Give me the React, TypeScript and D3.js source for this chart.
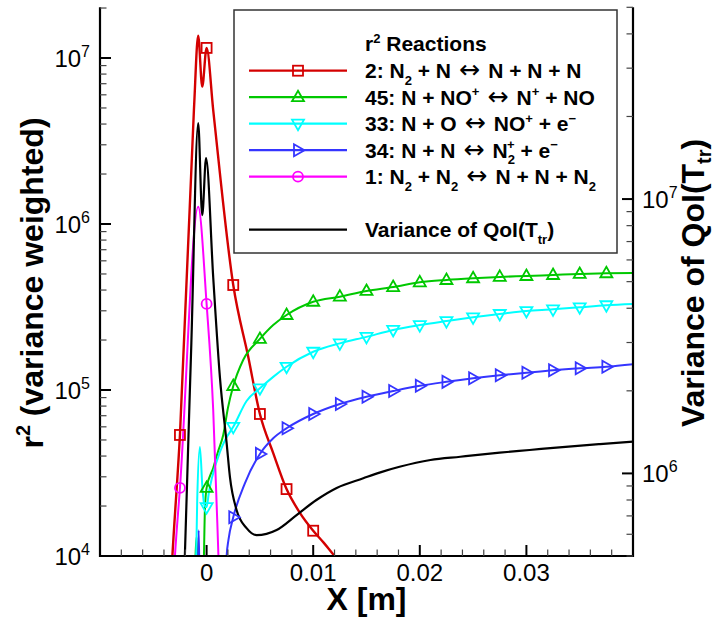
import React from 'react';
import * as d3 from 'd3';

const W = 719;
const H = 621;

// ---- axes ----
const X_DOMAIN: [number, number] = [-0.01, 0.04];
const YL_DOMAIN: [number, number] = [1e4, 2.02e7];
const YR_DOMAIN: [number, number] = [5e5, 5e7];
const X_MAJOR = [0, 0.01, 0.02, 0.03];
const X_LABELS = ['0', '0.01', '0.02', '0.03'];
const YL_MAJOR_EXP = [4, 5, 6, 7];
const YR_MAJOR_EXP = [6, 7];
const MARKER_X = [-0.0025, 0, 0.0025, 0.005, 0.0075, 0.01, 0.0125, 0.015, 0.0175, 0.02, 0.0225, 0.025, 0.0275, 0.03, 0.0325, 0.035, 0.0375];

// ---- series (x [m], r^2 or variance) ----
const R2_DATA: [number, number][] = [
  [-0.00344, 5.4e3], [-0.00321, 1e4], [-0.0025, 5.36e4], [-0.00119, 4.86e6], [-0.00079, 1.36e7],
  [-0.00041, 6.72e6], [0, 1.15e7], [0.00062, 4.86e6], [0.0025, 4.29e5], [0.0039, 1.59e5],
  [0.005, 7.17e4], [0.00625, 4.17e4], [0.0075, 2.53e4], [0.00875, 1.82e4], [0.01, 1.42e4],
  [0.011, 1.2e4], [0.012, 1e4], [0.013, 8.5e3],
];
const R45_DATA: [number, number][] = [
  [-0.00114, 5.4e3], [-0.00094, 1.3e4], [-0.00077, 5.4e3], [-0.00035, 5.4e3], [-0.00025, 1e4],
  [-0.00016, 1.89e4], [0, 2.57e4], [0.00062, 3.39e4], [0.00106, 4.23e4], [0.00156, 5.36e4],
  [0.002, 7.79e4], [0.0025, 1.057e5], [0.00343, 1.517e5], [0.005, 2.03e5], [0.00625, 2.46e5],
  [0.0075, 2.83e5], [0.01, 3.4e5], [0.0125, 3.65e5], [0.015, 3.95e5], [0.0175, 4.17e5],
  [0.02, 4.45e5], [0.0225, 4.6e5], [0.025, 4.71e5], [0.0275, 4.8e5], [0.03, 4.86e5],
  [0.0325, 4.93e5], [0.035, 5.0e5], [0.0375, 5.05e5], [0.04, 5.07e5],
];
const R33_DATA: [number, number][] = [
  [-0.00105, 5.4e3], [-0.00088, 2.18e4], [-0.00063, 4.54e4], [-0.00038, 2.5e4], [-0.00021, 2.03e4],
  [0, 1.97e4], [0.00022, 2.43e4], [0.0005, 2.95e4], [0.00125, 4.23e4], [0.00181, 5.1e4],
  [0.0025, 6.0e4], [0.00375, 8.59e4], [0.005, 1.024e5], [0.00625, 1.2e5], [0.0075, 1.38e5],
  [0.01, 1.7e5], [0.0125, 1.91e5], [0.015, 2.09e5], [0.0175, 2.3e5], [0.02, 2.46e5],
  [0.0225, 2.6e5], [0.025, 2.74e5], [0.0275, 2.87e5], [0.03, 2.99e5], [0.0325, 3.06e5],
  [0.035, 3.15e5], [0.0375, 3.24e5], [0.04, 3.3e5],
];
const R34_DATA: [number, number][] = [
  [-0.00086, 5.4e3], [-0.00074, 1.43e4], [-0.00063, 5.4e3], [0.00172, 5.4e3], [0.00188, 1e4],
  [0.00205, 1.25e4], [0.0025, 1.71e4], [0.0036, 2.75e4], [0.005, 4.12e4], [0.00625, 5.12e4],
  [0.0075, 5.88e4], [0.01, 7.17e4], [0.0125, 8.24e4], [0.015, 9.11e4], [0.0175, 9.86e4],
  [0.02, 1.06e5], [0.0225, 1.12e5], [0.025, 1.176e5], [0.0275, 1.226e5], [0.03, 1.27e5],
  [0.0325, 1.315e5], [0.035, 1.351e5], [0.0375, 1.38e5], [0.04, 1.43e5],
];
const R1_DATA: [number, number][] = [
  [-0.00321, 5.4e3], [-0.00297, 1e4], [-0.0025, 2.57e4], [-0.00079, 1.27e6], [0, 3.3e5],
  [0.00062, 7.58e4], [0.00111, 1e4], [0.00125, 5.4e3],
];
const QOI_DATA: [number, number][] = [
  [-0.00218, 3.18e5], [-0.00204, 5e5], [-0.00143, 2.99e6], [-0.00079, 1.89e7], [-0.00041, 8.74e6],
  [-0.00005, 1.41e7], [0.00062, 5.19e6], [0.00125, 2.24e6], [0.00188, 1.29e6], [0.00219, 9.7e5],
  [0.00281, 7.36e5], [0.00375, 6.32e5], [0.00469, 5.96e5], [0.00657, 6.22e5], [0.00844, 7.05e5],
  [0.0103, 8.0e5], [0.0122, 8.85e5], [0.0147, 9.6e5], [0.0163, 1.009e6], [0.0181, 1.057e6],
  [0.021, 1.119e6], [0.0238, 1.15e6], [0.0275, 1.19e6], [0.0303, 1.217e6], [0.0331, 1.245e6],
  [0.0369, 1.279e6], [0.04, 1.305e6],
];

type Part = { t: string; s?: 'sub' | 'sup'; n?: boolean; dx?: number; f?: string; k?: number };

const LEGEND_TITLE: Part[] = [{ t: 'r' }, { t: '2', s: 'sup' }, { t: ' Reactions' }];
const ARROW: Part = { t: ' \u2194 ', n: true, f: "'DejaVu Sans', sans-serif", k: 1.2 };
const LABEL_2: Part[] = [{ t: '2: N' }, { t: '2', s: 'sub' }, { t: ' + N' }, ARROW, { t: 'N + N + N' }];
const LABEL_45: Part[] = [{ t: '45: N + NO' }, { t: '+', s: 'sup' }, ARROW, { t: 'N' }, { t: '+', s: 'sup' }, { t: ' + NO' }];
const LABEL_33: Part[] = [{ t: '33: N + O' }, ARROW, { t: 'NO' }, { t: '+', s: 'sup' }, { t: ' + e' }, { t: '\u2212', s: 'sup' }];
const LABEL_34: Part[] = [{ t: '34: N + N' }, ARROW, { t: 'N' }, { t: '2', s: 'sub' }, { t: '+', s: 'sup', dx: -8 }, { t: ' + e' }, { t: '\u2212', s: 'sup' }];
const LABEL_1: Part[] = [{ t: '1: N' }, { t: '2', s: 'sub' }, { t: ' + N' }, { t: '2', s: 'sub' }, ARROW, { t: 'N + N + N' }, { t: '2', s: 'sub' }];
const LABEL_QOI: Part[] = [{ t: 'Variance of QoI(T' }, { t: 'tr', s: 'sub' }, { t: ')' }];
const Y_LEFT_TITLE: Part[] = [{ t: 'r' }, { t: '2', s: 'sup' }, { t: ' (variance weighted)' }];
const Y_RIGHT_TITLE: Part[] = [{ t: 'Variance of QoI(T' }, { t: 'tr', s: 'sub' }, { t: ')' }];

type Marker = 'square' | 'tri-up' | 'tri-down' | 'tri-right' | 'circle' | 'none';

const SERIES = [
  { data: R2_DATA, color: '#D40000', marker: 'square' as Marker, axis: 'L', label: LABEL_2, width: 2.4 },
  { data: R45_DATA, color: '#00C800', marker: 'tri-up' as Marker, axis: 'L', label: LABEL_45, width: 2 },
  { data: R33_DATA, color: '#00FFFF', marker: 'tri-down' as Marker, axis: 'L', label: LABEL_33, width: 2 },
  { data: R34_DATA, color: '#3535FF', marker: 'tri-right' as Marker, axis: 'L', label: LABEL_34, width: 2 },
  { data: R1_DATA, color: '#FF00FF', marker: 'circle' as Marker, axis: 'L', label: LABEL_1, width: 2 },
  { data: QOI_DATA, color: '#000000', marker: 'none' as Marker, axis: 'R', label: LABEL_QOI, width: 2.2 },
];

const FONT = "'Liberation Sans', Arial, Helvetica, sans-serif";

const PL = 100, PR = 633, PT = 7.3, PB = 556;

const x = d3.scaleLinear().domain(X_DOMAIN).range([PL, PR]);
const yL = d3.scaleLog().domain(YL_DOMAIN).range([PB, PT]);
const yR = d3.scaleLog().domain(YR_DOMAIN).range([PB, PT]);

function RichText({ parts, fs, subScale = 0.62, subShift = 0.3 }: { parts: Part[]; fs: number; subScale?: number; subShift?: number }) {
  let cur = 0;
  return (
    <>
      {parts.map((p, i) => {
        const target = p.s === 'sup' ? -0.4 * fs : p.s === 'sub' ? subShift * fs : 0;
        const dy = target - cur;
        cur = target;
        const size = p.s ? fs * subScale : fs * (p.k || 1);
        return (
          <tspan key={i} dy={dy} dx={p.dx} fontSize={size} fontWeight={p.n ? 'normal' : undefined} fontFamily={p.f}>
            {p.t}
          </tspan>
        );
      })}
    </>
  );
}

function MarkerShape({ type, cx, cy, color }: { type: Marker; cx: number; cy: number; color: string }) {
  const common = { fill: 'none', stroke: color, strokeWidth: 1.8 };
  if (type === 'square') return <rect x={cx - 5} y={cy - 5} width={10} height={10} {...common} />;
  if (type === 'circle') return <circle cx={cx} cy={cy} r={5} {...common} />;
  if (type === 'tri-up') return <polygon points={`${cx},${cy - 6.5} ${cx + 6},${cy + 4} ${cx - 6},${cy + 4}`} {...common} />;
  if (type === 'tri-down') return <polygon points={`${cx},${cy + 6.5} ${cx + 6},${cy - 4} ${cx - 6},${cy - 4}`} {...common} />;
  if (type === 'tri-right') return <polygon points={`${cx + 6.5},${cy} ${cx - 4},${cy - 6} ${cx - 4},${cy + 6}`} {...common} />;
  return null;
}

function interpLog(data: [number, number][], xv: number): number | null {
  for (let i = 0; i < data.length - 1; i++) {
    const [x0, y0] = data[i];
    const [x1, y1] = data[i + 1];
    if (xv >= x0 && xv <= x1) {
      const t = x1 === x0 ? 0 : (xv - x0) / (x1 - x0);
      return Math.pow(10, Math.log10(y0) + t * (Math.log10(y1) - Math.log10(y0)));
    }
  }
  return null;
}

export default function App() {
  const xMinor = d3.range(-0.01, 0.0401, 0.002).filter((v) => !X_MAJOR.some((m) => Math.abs(m - v) < 1e-9) && v > X_DOMAIN[0] + 1e-9 && v < X_DOMAIN[1] - 1e-9);
  const yLMinor: number[] = [];
  for (let e = 4; e <= 7; e++) for (let m = 2; m <= 9; m++) { const v = m * Math.pow(10, e); if (v <= YL_DOMAIN[1] * 1.001) yLMinor.push(v); }
  const yRMinor: number[] = [];
  for (let e = 5; e <= 7; e++) for (let m = 2; m <= 9; m++) { const v = m * Math.pow(10, e); if (v >= YR_DOMAIN[0] && v <= YR_DOMAIN[1] * 1.001) yRMinor.push(v); }

  const MAJ = 11, MIN = 6.5;

  const legendRows = [70.7, 97.2, 123.7, 150.2, 176.7, 229.7];

  return (
    <svg width={W} height={H} style={{ position: 'absolute', left: 0, top: 0, background: '#fff' }} fontFamily={FONT}>
      <defs>
        <clipPath id="plotclip">
          <rect x={PL} y={PT} width={PR - PL} height={PB - PT} />
        </clipPath>
      </defs>
      <rect x={0} y={0} width={W} height={H} fill="#fff" />

      {/* curves */}
      <g clipPath="url(#plotclip)">
        {SERIES.map((s, i) => {
          const ys = s.axis === 'L' ? yL : yR;
          const line = d3.line<[number, number]>().x((d) => x(d[0])).y((d) => ys(d[1])).curve(d3.curveMonotoneX);
          return <path key={i} d={line(s.data) || ''} fill="none" stroke={s.color} strokeWidth={s.width} strokeLinejoin="round" />;
        })}
        {SERIES.map((s, i) => {
          if (s.marker === 'none') return null;
          const ys = s.axis === 'L' ? yL : yR;
          const dom = s.axis === 'L' ? YL_DOMAIN : YR_DOMAIN;
          return (
            <g key={'m' + i}>
              {MARKER_X.map((mx, j) => {
                const v = interpLog(s.data, mx);
                if (v === null || v < dom[0] || v > dom[1]) return null;
                return <MarkerShape key={j} type={s.marker} cx={x(mx)} cy={ys(v)} color={s.color} />;
              })}
            </g>
          );
        })}
      </g>

      {/* axes lines */}
      <g stroke="#000" fill="none">
        <line x1={PL} y1={PT} x2={PL} y2={PB + 1} strokeWidth={2.2} />
        <line x1={PR} y1={PT} x2={PR} y2={PB + 1} strokeWidth={2.2} />
        <line x1={PL - 1} y1={PB} x2={PR + 1} y2={PB} strokeWidth={2.2} />
        {X_MAJOR.map((v, i) => <line key={'xM' + i} x1={x(v)} x2={x(v)} y1={PB} y2={PB - MAJ} strokeWidth={2} />)}
        {xMinor.map((v, i) => <line key={'xm' + i} x1={x(v)} x2={x(v)} y1={PB} y2={PB - MIN} strokeWidth={1.2} stroke="#444" />)}
        {YL_MAJOR_EXP.map((e, i) => <line key={'lM' + i} x1={PL} x2={PL + MAJ} y1={yL(Math.pow(10, e))} y2={yL(Math.pow(10, e))} strokeWidth={2} />)}
        {yLMinor.map((v, i) => <line key={'lm' + i} x1={PL} x2={PL + MIN} y1={yL(v)} y2={yL(v)} strokeWidth={1.2} stroke="#444" />)}
        {YR_MAJOR_EXP.map((e, i) => <line key={'rM' + i} x1={PR} x2={PR - MAJ} y1={yR(Math.pow(10, e))} y2={yR(Math.pow(10, e))} strokeWidth={2} />)}
        {yRMinor.map((v, i) => <line key={'rm' + i} x1={PR} x2={PR - MIN} y1={yR(v)} y2={yR(v)} strokeWidth={1.2} stroke="#444" />)}
      </g>

      {/* tick labels */}
      <g fill="#000" fontSize={24}>
        {X_MAJOR.map((v, i) => (
          <text key={'xl' + i} x={x(v)} y={PB + 25} textAnchor="middle">{X_LABELS[i]}</text>
        ))}
        {YL_MAJOR_EXP.map((e, i) => (
          <text key={'yll' + i} x={90} y={yL(Math.pow(10, e)) + 9} textAnchor="end">
            <tspan>10</tspan>
            <tspan dy={-10} fontSize={16}>{String(e)}</tspan>
          </text>
        ))}
        {YR_MAJOR_EXP.map((e, i) => (
          <text key={'yrl' + i} x={642} y={yR(Math.pow(10, e)) + 9} textAnchor="start">
            <tspan>10</tspan>
            <tspan dy={-10} fontSize={16}>{String(e)}</tspan>
          </text>
        ))}
      </g>

      {/* axis titles */}
      <text x={366.5} y={610} textAnchor="middle" fontWeight="bold" fontSize={32} style={{ whiteSpace: 'pre' }}>X [m]</text>
      <text transform="translate(43,283) rotate(-90)" textAnchor="middle" fontWeight="bold" fontSize={32} style={{ whiteSpace: 'pre' }}>
        <RichText parts={Y_LEFT_TITLE} fs={32} />
      </text>
      <text transform="translate(704,283) rotate(-90)" textAnchor="middle" fontWeight="bold" fontSize={32} style={{ whiteSpace: 'pre' }}>
        <RichText parts={Y_RIGHT_TITLE} fs={32} subShift={0.22} />
      </text>

      {/* legend */}
      <g>
        <rect x={234} y={10} width={383} height={243} fill="#fff" stroke="#333" strokeWidth={1.5} />
        <text x={365} y={51} fontWeight="bold" fontSize={21} style={{ whiteSpace: 'pre' }}>
          <RichText parts={LEGEND_TITLE} fs={21} />
        </text>
        {SERIES.map((s, i) => {
          const ry = legendRows[i];
          return (
            <g key={'lg' + i}>
              <line x1={249} x2={347} y1={ry} y2={ry} stroke={s.color} strokeWidth={2.2} />
              <MarkerShape type={s.marker} cx={298} cy={ry} color={s.color} />
              <text x={365} y={ry + 7.5} fontWeight="bold" fontSize={21} style={{ whiteSpace: 'pre' }}>
                <RichText parts={s.label} fs={21} />
              </text>
            </g>
          );
        })}
      </g>
    </svg>
  );
}
